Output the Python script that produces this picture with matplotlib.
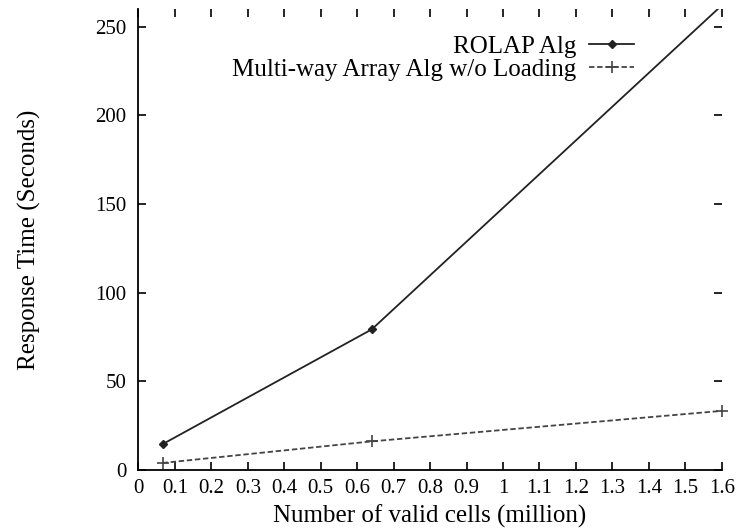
import matplotlib
matplotlib.use("Agg")
import matplotlib.pyplot as plt

# valid cells (million) and response times (seconds)
cells = [0.066, 0.64, 1.6]
rolap = [14.4, 79.2, 262.0]
multiway = [3.8, 16.0, 33.2]

x_ticks = [0, 0.1, 0.2, 0.3, 0.4, 0.5, 0.6, 0.7, 0.8, 0.9, 1, 1.1, 1.2, 1.3, 1.4, 1.5, 1.6]
x_labels = ["0", "0.1", "0.2", "0.3", "0.4", "0.5", "0.6", "0.7", "0.8", "0.9",
            "1", "1.1", "1.2", "1.3", "1.4", "1.5", "1.6"]
y_ticks = [0, 50, 100, 150, 200, 250]

plt.rcParams['font.family'] = ['Liberation Serif', 'DejaVu Serif']
plt.rcParams['font.size'] = 15

fig = plt.figure(figsize=(7.39, 5.28), dpi=100)
ax = fig.add_axes([0.1874, 0.1104, 0.7892, 0.8726])

ax.plot(cells, rolap, color='#222222', lw=1.3, marker='D', ms=4.5,
        label='ROLAP Alg')
ax.plot(cells, multiway, color='#444444', lw=1.3, ls=(0, (3, 1.5)), marker='+',
        ms=8, mew=1.2, label='Multi-way Array Alg w/o Loading', clip_on=False)

ax.set_xlim(0, 1.6)
ax.set_ylim(0, 260)
ax.set_xticks(x_ticks)
ax.set_xticklabels(x_labels)
ax.set_yticks(y_ticks)

for side in ['top', 'right']:
    ax.spines[side].set_visible(False)
for side in ['left', 'bottom']:
    ax.spines[side].set_linewidth(1.3)

ax.tick_params(direction='in', top=True, right=True, length=6, width=1.2)
ax.tick_params(axis='x', pad=6.5)
ax.tick_params(axis='y', pad=8.5)

ax.set_xlabel('Number of valid cells (million)', fontsize=18, labelpad=5)
ax.set_ylabel('Response Time (Seconds)', fontsize=18, labelpad=39)

ax.legend(loc='upper right', bbox_to_anchor=(0.85, 0.942), markerfirst=False,
          frameon=False, fontsize=18, handlelength=1.8, labelspacing=0.0,
          handletextpad=0.5, borderaxespad=0, borderpad=0)

fig.savefig('out.png', dpi=100)
